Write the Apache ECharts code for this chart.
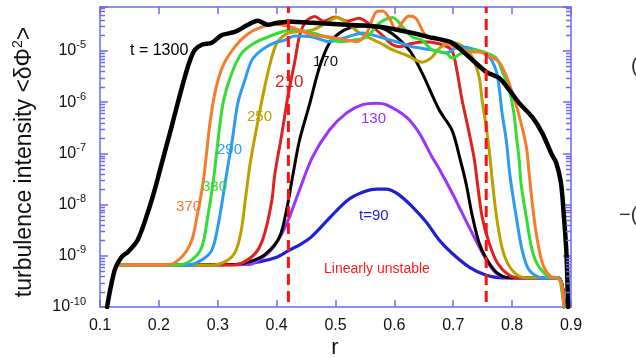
<!DOCTYPE html>
<html>
<head>
<meta charset="utf-8">
<script src="https://cdn.jsdelivr.net/npm/echarts@6/dist/echarts.min.js"></script>
<style>
  html, body { margin: 0; padding: 0; background: #fff; }
  #chart { width: 636px; height: 358px; }
</style>
</head>
<body>
<div id="chart"></div>
<script>
// curves: [r, log10 of intensity]
const t90 = [[0.13,-9.18],[0.33,-9.17],[0.37,-9.12],[0.40,-9.03],[0.42,-8.90],[0.44,-8.78],[0.46,-8.62],[0.49,-8.26],[0.52,-7.92],[0.546,-7.76],[0.57,-7.70],[0.586,-7.70],[0.608,-7.81],[0.631,-8.05],[0.654,-8.34],[0.676,-8.69],[0.698,-8.95],[0.727,-9.22],[0.756,-9.38],[0.783,-9.43],[0.878,-9.43],[0.888,-10]];
const t130 = [[0.13,-9.18],[0.354,-9.17],[0.378,-9.02],[0.395,-8.83],[0.41,-8.54],[0.422,-8.24],[0.439,-7.71],[0.461,-7.07],[0.49,-6.54],[0.519,-6.21],[0.546,-6.05],[0.569,-6.02],[0.586,-6.05],[0.62,-6.29],[0.642,-6.60],[0.664,-7.07],[0.676,-7.30],[0.698,-7.77],[0.727,-8.44],[0.756,-9.08],[0.773,-9.34],[0.795,-9.43],[0.878,-9.43],[0.888,-10]];
const t170 = [[0.13,-9.18],[0.33,-9.17],[0.363,-9.08],[0.383,-8.95],[0.405,-8.63],[0.417,-8.1],[0.427,-7.46],[0.439,-6.74],[0.456,-6.04],[0.473,-5.31],[0.49,-4.84],[0.507,-4.65],[0.524,-4.55],[0.549,-4.51],[0.586,-4.59],[0.625,-4.98],[0.647,-5.43],[0.676,-6.15],[0.698,-6.55],[0.712,-7.13],[0.722,-7.6],[0.732,-8.2],[0.744,-8.75],[0.756,-9.05],[0.773,-9.32],[0.795,-9.43],[0.878,-9.43],[0.888,-10]];
const t210 = [[0.13,-9.18],[0.329,-9.18],[0.351,-9.08],[0.368,-8.89],[0.38,-8.55],[0.392,-7.91],[0.397,-7.4],[0.408,-6.68],[0.419,-5.9],[0.431,-5.2],[0.439,-4.7],[0.45,-4.42],[0.465,-4.33],[0.48,-4.42],[0.50,-4.34],[0.52,-4.42],[0.54,-4.36],[0.565,-4.55],[0.58,-4.70],[0.597,-4.88],[0.61,-4.92],[0.627,-4.86],[0.65,-4.82],[0.676,-4.86],[0.697,-4.98],[0.705,-5.31],[0.715,-5.96],[0.727,-6.60],[0.736,-7.13],[0.741,-7.58],[0.749,-8.24],[0.761,-8.75],[0.775,-9.14],[0.795,-9.38],[0.812,-9.43],[0.878,-9.43],[0.888,-10]];
const t250 = [[0.13,-9.18],[0.29,-9.18],[0.315,-9.1],[0.33,-8.92],[0.34,-8.5],[0.348,-7.8],[0.355,-7.2],[0.366,-6.5],[0.378,-5.8],[0.39,-5.2],[0.40,-4.85],[0.41,-4.72],[0.42,-4.65],[0.44,-4.62],[0.461,-4.59],[0.485,-4.45],[0.502,-4.35],[0.519,-4.45],[0.541,-4.65],[0.575,-4.84],[0.597,-4.98],[0.62,-5.08],[0.647,-5.22],[0.664,-5.12],[0.676,-4.95],[0.698,-4.84],[0.715,-4.9],[0.732,-5.12],[0.744,-5.51],[0.749,-5.96],[0.756,-6.48],[0.761,-6.93],[0.766,-7.5],[0.773,-8.2],[0.783,-8.85],[0.795,-9.2],[0.812,-9.4],[0.83,-9.43],[0.878,-9.43],[0.888,-10]];
const t290 = [[0.13,-9.18],[0.249,-9.18],[0.273,-9.08],[0.29,-8.89],[0.30,-8.44],[0.308,-7.91],[0.317,-7.26],[0.324,-6.8],[0.334,-6.02],[0.346,-5.57],[0.358,-5.18],[0.375,-4.98],[0.397,-4.84],[0.414,-4.79],[0.431,-4.71],[0.461,-4.73],[0.49,-4.82],[0.519,-4.73],[0.546,-4.65],[0.575,-4.73],[0.603,-4.82],[0.631,-4.92],[0.664,-4.98],[0.688,-5.04],[0.71,-4.92],[0.739,-4.98],[0.761,-5.12],[0.773,-5.39],[0.778,-5.72],[0.783,-6.22],[0.79,-6.74],[0.795,-7.3],[0.798,-7.58],[0.807,-8.24],[0.817,-8.89],[0.829,-9.28],[0.851,-9.43],[0.878,-9.43],[0.888,-10]];
const t330 = [[0.13,-9.18],[0.232,-9.18],[0.256,-9.08],[0.273,-8.83],[0.283,-8.24],[0.292,-7.58],[0.298,-7.0],[0.303,-6.5],[0.31,-5.96],[0.324,-5.43],[0.341,-5.04],[0.363,-4.84],[0.385,-4.73],[0.408,-4.63],[0.425,-4.59],[0.461,-4.65],[0.49,-4.75],[0.507,-4.82],[0.529,-4.79],[0.553,-4.73],[0.575,-4.45],[0.597,-4.35],[0.614,-4.53],[0.631,-4.73],[0.647,-4.79],[0.664,-4.98],[0.688,-5.04],[0.698,-5.14],[0.715,-5.04],[0.739,-4.98],[0.756,-5.04],[0.773,-5.14],[0.783,-5.39],[0.795,-5.76],[0.803,-6.22],[0.808,-6.74],[0.812,-7.13],[0.815,-7.58],[0.824,-8.24],[0.834,-8.89],[0.846,-9.22],[0.868,-9.43],[0.878,-9.43],[0.888,-10]];
const t370 = [[0.13,-9.18],[0.215,-9.18],[0.239,-9.02],[0.256,-8.69],[0.266,-8.16],[0.275,-7.58],[0.281,-7.0],[0.286,-6.48],[0.295,-5.83],[0.308,-5.31],[0.329,-4.92],[0.351,-4.67],[0.375,-4.53],[0.397,-4.48],[0.42,-4.52],[0.439,-4.6],[0.461,-4.69],[0.49,-4.73],[0.519,-4.79],[0.536,-4.82],[0.553,-4.65],[0.569,-4.24],[0.58,-4.22],[0.592,-4.37],[0.603,-4.6],[0.614,-4.43],[0.625,-4.32],[0.637,-4.37],[0.654,-4.71],[0.676,-4.77],[0.698,-4.9],[0.722,-5.02],[0.744,-5.02],[0.761,-5.1],[0.778,-5.22],[0.79,-5.49],[0.80,-5.8],[0.812,-6.27],[0.824,-6.86],[0.829,-7.4],[0.837,-8.24],[0.846,-8.89],[0.854,-9.22],[0.866,-9.41],[0.876,-9.43],[0.883,-9.53],[0.888,-10]];
const t1300 = [[0.112,-10],[0.125,-9.28],[0.137,-9.02],[0.147,-8.93],[0.164,-8.69],[0.181,-8.16],[0.193,-7.71],[0.205,-7.19],[0.22,-6.55],[0.232,-6.02],[0.244,-5.51],[0.253,-5.18],[0.261,-4.98],[0.273,-4.88],[0.29,-4.84],[0.307,-4.69],[0.329,-4.63],[0.351,-4.49],[0.368,-4.41],[0.385,-4.49],[0.402,-4.45],[0.425,-4.43],[0.461,-4.45],[0.519,-4.49],[0.575,-4.53],[0.631,-4.65],[0.659,-4.73],[0.676,-4.77],[0.698,-4.84],[0.727,-5.12],[0.756,-5.41],[0.778,-5.53],[0.795,-5.76],[0.812,-6.02],[0.834,-6.29],[0.851,-6.60],[0.866,-6.99],[0.875,-7.19],[0.883,-7.58],[0.888,-8.24],[0.892,-8.89],[0.894,-9.53],[0.895,-10]];

const unstableEdges = [0.42, 0.756];
const xTicks = [0.1, 0.9, 0.1]; // min, max, step
const yRange = [1e-10, 7.2e-5];
const minorSteps = [2, 3, 4, 5, 6, 7, 8, 9];
const decades = [-10, -9, -8, -7, -6, -5];

const font = '"Liberation Sans", Arial, Helvetica, sans-serif';
const frame = '#6b6bef';

const toPts = arr => arr.map(p => [p[0], Math.pow(10, p[1])]);

const curves = [
  { name: '90', data: t90, color: '#1f1fd6', width: 3.2 },
  { name: '130', data: t130, color: '#9933ff', width: 3 },
  { name: '170', data: t170, color: '#000000', width: 3 },
  { name: '210', data: t210, color: '#dd2222', width: 3 },
  { name: '250', data: t250, color: '#bba000', width: 3 },
  { name: '290', data: t290, color: '#2b9cf2', width: 3 },
  { name: '330', data: t330, color: '#33dd33', width: 3 },
  { name: '370', data: t370, color: '#f57c2a', width: 3 },
  { name: '1300', data: t1300, color: '#000000', width: 4.5 }
];

const minorVals = [];
decades.forEach(d => minorSteps.forEach(k => {
  const v = k * Math.pow(10, d);
  if (v < yRange[1]) minorVals.push(v);
}));

const labels = [
  { text: 't = 1300', x: 130, y: 51, color: '#000', size: 16 },
  { text: '170', x: 313, y: 62, color: '#111', size: 15 },
  { text: '210', x: 275, y: 82, color: '#dd2222', size: 17 },
  { text: '250', x: 247, y: 117, color: '#bba000', size: 15 },
  { text: '290', x: 217, y: 150, color: '#2b9cf2', size: 15 },
  { text: '330', x: 202, y: 187, color: '#33dd33', size: 15 },
  { text: '370', x: 176, y: 207, color: '#f57c2a', size: 15 },
  { text: '130', x: 361, y: 119, color: '#9933ff', size: 15 },
  { text: 't=90', x: 359, y: 216, color: '#1f1fd6', size: 15 },
  { text: 'Linearly unstable', x: 324, y: 269, color: '#ff1a1a', size: 14 },
  { text: '(', x: 631, y: 66, color: '#333', size: 20 },
  { text: '\u2212(', x: 619, y: 215, color: '#333', size: 20 }
];

const yLabel = v => {
  const e = Math.log10(v);
  if (Math.abs(e - Math.round(e)) > 1e-6) return '';
  return '{b|10}{s|' + Math.round(e) + '}';
};

const xAxisBase = {
  type: 'value', min: xTicks[0], max: xTicks[1], interval: xTicks[2],
  axisLine: { lineStyle: { color: frame, width: 1.5 } },
  axisTick: { inside: true, length: 7, lineStyle: { color: frame, width: 1.5 } },
  splitLine: { show: false }
};
const yAxisBase = {
  type: 'log', logBase: 10, min: yRange[0], max: yRange[1],
  axisLine: { show: true, lineStyle: { color: frame, width: 1.5 } },
  axisTick: { inside: true, length: 8, lineStyle: { color: frame, width: 1.5 } },
  splitLine: { show: false }
};

const series = curves.map(c => ({
  type: 'line', name: c.name, data: toPts(c.data),
  showSymbol: false, smooth: 0.3, silent: true,
  lineStyle: { color: c.color, width: c.width, cap: 'round', join: 'round' }
}));

unstableEdges.forEach(r => series.push({
  type: 'line', data: [[r, 1.25e-10], [r, yRange[1]]],
  showSymbol: false, silent: true, z: 10,
  lineStyle: { color: '#ff1111', width: 3, type: [11, 6] }
}));

const graphic = labels.map(l => ({
  type: 'text', x: l.x, y: l.y, silent: true, z: 20,
  style: { text: l.text, fill: l.color, font: l.size + 'px ' + font, align: 'left', verticalAlign: 'middle' }
}));
graphic.push({
  type: 'text', x: 25, y: 162, rotation: Math.PI / 2, silent: true,
  style: {
    text: '{a|turbulence intensity <\u03b4\u03a6}{s|2}{a|>}',
    align: 'center', verticalAlign: 'middle',
    rich: {
      a: { fontSize: 23, lineHeight: 28, fontFamily: font, fill: '#111' },
      s: { fontSize: 14, lineHeight: 12, verticalAlign: 'top', fontFamily: font, fill: '#111' }
    }
  }
});
graphic.push({
  type: 'text', x: 335, y: 348, silent: true,
  style: { text: 'r', fill: '#111', font: '22px ' + font, align: 'center', verticalAlign: 'middle' }
});

const chart = echarts.init(document.getElementById('chart'));
chart.setOption({
  animation: false,
  backgroundColor: '#fff',
  grid: { left: 100, right: 65, top: 7, bottom: 51 },
  xAxis: [
    Object.assign({}, xAxisBase, {
      position: 'bottom',
      axisLabel: { formatter: v => v.toFixed(1), color: '#111', fontSize: 16, fontFamily: font, margin: 11 }
    }),
    Object.assign({}, xAxisBase, { position: 'top', axisLabel: { show: false } })
  ],
  yAxis: [
    Object.assign({}, yAxisBase, {
      position: 'left',
      axisLabel: {
        formatter: yLabel, margin: 14,
        rich: {
          b: { fontSize: 16, lineHeight: 22, fontFamily: font, color: '#111' },
          s: { fontSize: 11, lineHeight: 6, verticalAlign: 'top', fontFamily: font, color: '#111' }
        }
      }
    }),
    Object.assign({}, yAxisBase, { position: 'right', axisLabel: { show: false } })
  ],
  series: series
});

// minor log ticks on both frame sides, placed through the axis scale
const minorEls = [];
minorVals.forEach(v => {
  const l = chart.convertToPixel({ gridIndex: 0 }, [xTicks[0], v]);
  const r = chart.convertToPixel({ gridIndex: 0 }, [xTicks[1], v]);
  if (!l || !r) return;
  const y = Math.round(l[1]) + 0.5;
  minorEls.push({ type: 'line', silent: true, z: 30,
    shape: { x1: l[0], y1: y, x2: l[0] + 5, y2: y },
    style: { stroke: frame, lineWidth: 1.5 } });
  minorEls.push({ type: 'line', silent: true, z: 30,
    shape: { x1: r[0], y1: y, x2: r[0] - 5, y2: y },
    style: { stroke: frame, lineWidth: 1.5 } });
});
chart.setOption({ graphic: graphic.concat(minorEls) });
</script>
</body>
</html>
